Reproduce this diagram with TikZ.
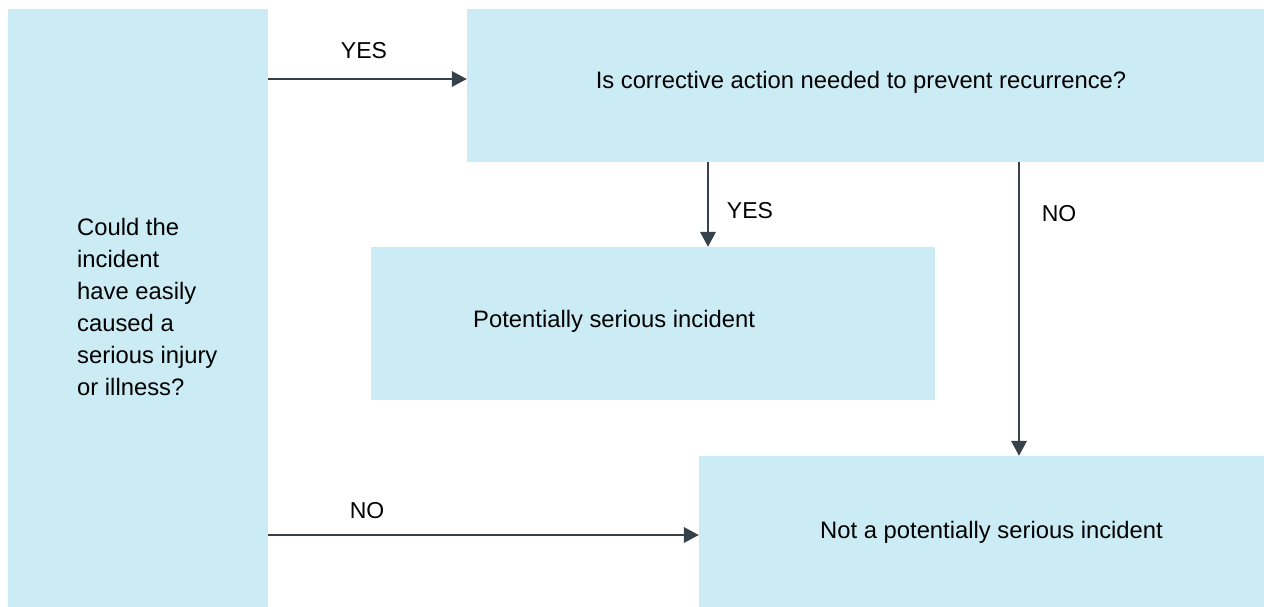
\documentclass[tikz,border=0pt]{standalone}
\usepackage{fontspec}
\setmainfont{Liberation Sans}
\usetikzlibrary{arrows.meta}
\definecolor{boxblue}{HTML}{CCECF5}
\definecolor{arrowgray}{HTML}{36414A}
\begin{document}
\begin{tikzpicture}[x=1pt,y=-1pt,
  box/.style={fill=boxblue,draw=none,inner sep=0pt},
  txt/.style={inner sep=0pt,font=\fontsize{23.8}{32}\selectfont,text=black},
  lbl/.style={inner sep=0pt,font=\fontsize{23}{32}\selectfont,text=black,anchor=base},
  arr/.style={draw=arrowgray,line width=2pt,-{Triangle[length=15pt,width=15.5pt]}}]
\useasboundingbox (0,0) rectangle (1264,607);
% boxes
\node[box,minimum width=260pt,minimum height=598pt] (left) at (138,308) {};
\node[box,minimum width=797pt,minimum height=153pt] (top) at (865.5,85.5) {};
\node[box,minimum width=564pt,minimum height=153pt] (mid) at (653,323.5) {};
\node[box,minimum width=565pt,minimum height=151pt] (bot) at (981.5,531.5) {};
% texts
\node[txt,anchor=west,align=left] (lefttext) at (77,307) {Could the\\incident\\have easily\\caused a\\serious injury\\or illness?};
\node[txt,anchor=base] (toptext) at (861,89) {Is corrective action needed to prevent recurrence?};
\node[txt,anchor=base west] (midtext) at (473,327) {Potentially serious incident};
\node[txt,anchor=base west] (bottext) at (820,538) {Not a potentially serious incident};
% connector anchor points
\coordinate (ya) at (0,79);
\coordinate (na) at (0,535);
\coordinate (xd) at (708,0);
\coordinate (xr) at (1019,0);
\draw[arr] (left.east |- ya) -- (top.west |- ya);
\draw[arr] (left.east |- na) -- (bot.west |- na);
\draw[arr] (top.south -| xd) -- (mid.north -| xd);
\draw[arr] (top.south -| xr) -- (bot.north -| xr);
% labels
\node[lbl] (yes1) at (364,59) {YES};
\node[lbl] (no1) at (367,518) {NO};
\node[lbl] (yes2) at (750,218) {YES};
\node[lbl] (no2) at (1059,221) {NO};
\end{tikzpicture}
\end{document}
